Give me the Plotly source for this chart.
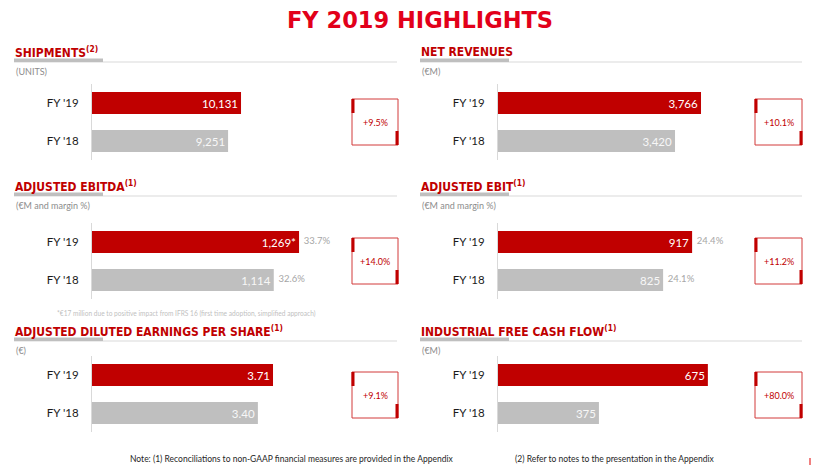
import plotly.graph_objects as go

##############################################
# Data
##############################################

CATEGORIES = ["FY '18", "FY '19"]

shipments = [9251, 10131]
net_revenues = [3420, 3766]
adj_ebitda = [1114, 1269]
adj_ebit = [825, 917]
adj_eps = [3.40, 3.71]
ind_fcf = [375, 675]

shipments_text = ["9,251", "10,131"]
net_revenues_text = ["3,420", "3,766"]
adj_ebitda_text = ["1,114", "1,269*"]
adj_ebit_text = ["825", "917"]
adj_eps_text = ["3.40", "3.71"]
ind_fcf_text = ["375", "675"]

ebitda_margin = ["32.6%", "33.7%"]
ebit_margin = ["24.1%", "24.4%"]

changes = ["+9.5%", "+10.1%", "+14.0%", "+11.2%", "+9.1%", "+80.0%"]

titles = [
    "SHIPMENTS<sup>(2)</sup>",
    "NET REVENUES",
    "ADJUSTED EBITDA<sup>(1)</sup>",
    "ADJUSTED EBIT<sup>(1)</sup>",
    "ADJUSTED DILUTED EARNINGS PER SHARE<sup>(1)</sup>",
    "INDUSTRIAL FREE CASH FLOW<sup>(1)</sup>",
]
subtitles = ["(UNITS)", "(€M)", "(€M and margin %)", "(€M and margin %)", "(€)", "(€M)"]

##############################################
# Layout helpers (pixel positions on 813x465)
##############################################

W, H = 813, 465
RED = "#C00000"
GREY = "#BFBFBF"


def px(x):
    return x / W


def py(y):
    return 1 - y / H


COLS = [
    dict(title_x=14, dom=(92, 340), box=(352, 398), line_end=397),
    dict(title_x=420, dom=(498, 746), box=(755, 802), line_end=802),
]
ROWS = [
    dict(under=62, top=84, box_top=99),
    dict(under=196, top=223, box_top=238),
    dict(under=341, top=356, box_top=372),
]
RANGES = [[0, 16860], [1063, 4365], [0, 1520], [301, 1088], [0, 5.083], [97, 780]]

values = [shipments, net_revenues, adj_ebitda, adj_ebit, adj_eps, ind_fcf]
texts = [shipments_text, net_revenues_text, adj_ebitda_text, adj_ebit_text,
         adj_eps_text, ind_fcf_text]
margins = [None, None, ebitda_margin, ebit_margin, None, None]

fig = go.Figure()
shapes = []
annotations = []
layout_axes = {}

for i in range(6):
    col = COLS[i % 2]
    row = ROWS[i // 2]
    n = "" if i == 0 else str(i + 1)

    fig.add_trace(
        go.Bar(
            x=values[i],
            y=CATEGORIES,
            orientation="h",
            marker=dict(color=[GREY, RED], line=dict(width=0)),
            text=texts[i],
            textposition="inside",
            insidetextanchor="end",
            textangle=0,
            constraintext="none",
            insidetextfont=dict(family="Lato", size=11.5, color=["#F7F7F7", "#FFFFFF"]),
            xaxis="x" + n,
            yaxis="y" + n,
            hoverinfo="skip",
        )
    )

    if margins[i] is not None:
        fig.add_trace(
            go.Scatter(
                x=values[i],
                y=CATEGORIES,
                mode="markers+text",
                marker=dict(size=6, color="rgba(0,0,0,0)"),
                text=margins[i],
                textposition="middle right",
                textfont=dict(family="Lato", size=9.5, color="#A6A6A6"),
                xaxis="x" + n,
                yaxis="y" + n,
                cliponaxis=False,
                hoverinfo="skip",
            )
        )

    layout_axes["xaxis" + n] = dict(
        domain=[px(col["dom"][0]), px(col["dom"][1])],
        range=RANGES[i],
        anchor="y" + n,
        visible=False,
        fixedrange=True,
    )
    layout_axes["yaxis" + n] = dict(
        domain=[py(row["top"] + 76), py(row["top"])],
        anchor="x" + n,
        type="category",
        categoryorder="array",
        categoryarray=CATEGORIES,
        range=[-0.5, 1.5],
        showline=True,
        linecolor="#D9D9D9",
        linewidth=1,
        showgrid=False,
        zeroline=False,
        ticks="",
        ticklabelstandoff=10,
        tickfont=dict(family="Lato", size=11.5, color="#1A1A1A"),
        fixedrange=True,
    )

    # title, underline and unit
    tx = col["title_x"]
    u = row["under"]
    annotations.append(dict(
        x=px(tx - 1), y=py(u - 10), xref="paper", yref="paper",
        xanchor="left", yanchor="middle", showarrow=False,
        text="<b>" + titles[i] + "</b>",
        font=dict(family="DejaVu Sans Condensed", size=12, color=RED),
    ))
    shapes.append(dict(type="line", xref="paper", yref="paper",
                       x0=px(tx), x1=px(col["line_end"]), y0=py(u), y1=py(u),
                       line=dict(color="#D9D9D9", width=1)))
    shapes.append(dict(type="rect", xref="paper", yref="paper",
                       x0=px(tx), x1=px(tx + 89), y0=py(u), y1=py(u - 3.5),
                       fillcolor=GREY, line=dict(width=0)))
    annotations.append(dict(
        x=px(tx), y=py(u + 9), xref="paper", yref="paper",
        xanchor="left", yanchor="middle", showarrow=False,
        text=subtitles[i],
        font=dict(family="Lato", size=9, color="#8C8C8C"),
    ))

    # change box
    bx0, bx1 = col["box"]
    by0 = row["box_top"]
    by1 = by0 + 46
    shapes.append(dict(type="rect", xref="paper", yref="paper",
                       x0=px(bx0), x1=px(bx1), y0=py(by1), y1=py(by0),
                       line=dict(color="#D23A3A", width=1)))
    shapes.append(dict(type="rect", xref="paper", yref="paper",
                       x0=px(bx0 - 0.5), x1=px(bx0 + 2.5), y0=py(by0 + 14), y1=py(by0),
                       fillcolor=RED, line=dict(width=0)))
    shapes.append(dict(type="rect", xref="paper", yref="paper",
                       x0=px(bx1 - 2.5), x1=px(bx1 + 0.5), y0=py(by1), y1=py(by1 - 14),
                       fillcolor=RED, line=dict(width=0)))
    annotations.append(dict(
        x=px((bx0 + bx1) / 2), y=py((by0 + by1) / 2), xref="paper", yref="paper",
        xanchor="center", yanchor="middle", showarrow=False,
        text=changes[i],
        font=dict(family="Lato", size=9, color=RED),
    ))

##############################################
# Header and notes
##############################################

annotations.append(dict(
    x=px(420), y=py(20.5), xref="paper", yref="paper",
    xanchor="center", yanchor="middle", showarrow=False,
    text="<b>FY 2019 HIGHLIGHTS</b>",
    font=dict(family="DejaVu Sans", size=22.5, color="#E2001A"),
))
annotations.append(dict(
    x=px(55), y=py(313), xref="paper", yref="paper",
    xanchor="left", yanchor="middle", showarrow=False,
    text="*€17 million due to positive impact from IFRS 16 (first time adoption, simplified approach)",
    font=dict(family="Lato", size=6.6, color="#BFBFBF"),
))
annotations.append(dict(
    x=px(128), y=py(459), xref="paper", yref="paper",
    xanchor="left", yanchor="middle", showarrow=False,
    text="Note: (1) Reconciliations to non-GAAP financial measures are provided in the Appendix",
    font=dict(family="Lato", size=8.5, color="#262626"),
))
annotations.append(dict(
    x=px(513), y=py(459), xref="paper", yref="paper",
    xanchor="left", yanchor="middle", showarrow=False,
    text="(2) Refer to notes to the presentation in the Appendix",
    font=dict(family="Lato", size=8.5, color="#262626"),
))
shapes.append(dict(type="rect", xref="paper", yref="paper",
                   x0=px(809), x1=px(811), y0=py(465), y1=py(458),
                   fillcolor="#F08080", line=dict(width=0)))

fig.update_layout(
    width=W,
    height=H,
    margin=dict(l=0, r=0, t=0, b=0),
    paper_bgcolor="white",
    plot_bgcolor="white",
    showlegend=False,
    bargap=0.42,
    shapes=shapes,
    annotations=annotations,
    **layout_axes,
)

fig.write_html(
    "out.html",
    config={"displayModeBar": False},
    post_script="document.body.style.margin='0';document.body.style.overflow='hidden';",
)
